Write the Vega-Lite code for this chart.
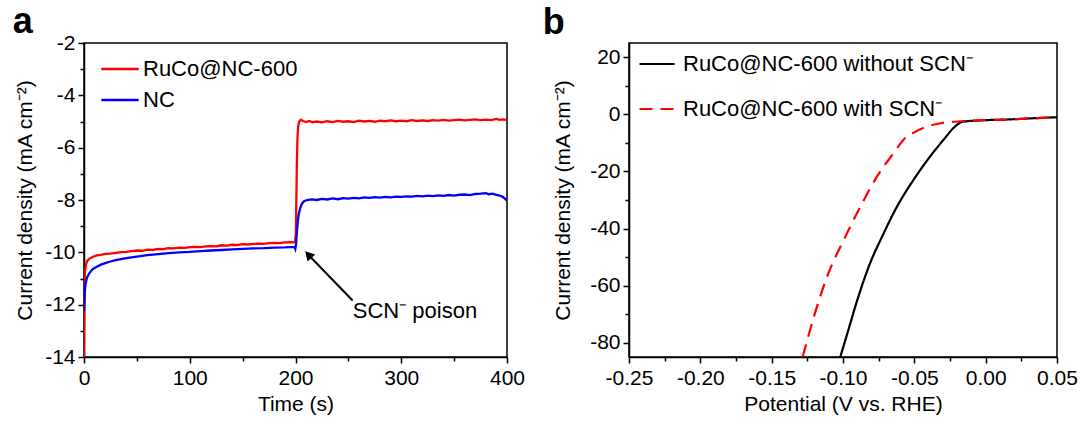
{
  "$schema": "https://vega.github.io/schema/vega-lite/v6.json",
  "background": "white",
  "padding": {"left": 11, "top": 3, "right": 0, "bottom": 0},
  "config": {
    "font": "Liberation Sans",
    "view": {"stroke": "black", "strokeWidth": 1.5},
    "axis": {"grid": false, "labelFlush": false, "domainColor": "black", "domainWidth": 1.5, "tickColor": "black", "tickWidth": 1.5, "tickSize": 6, "labelColor": "black", "labelFontSize": 21, "labelFont": "Liberation Sans", "titleFont": "Liberation Sans", "titleFontSize": 21, "titleFontWeight": "normal", "titleColor": "black", "labelPadding": 3, "titlePadding": 6},
    "axisX": {"labelPadding": 4, "titlePadding": 5},
    "legend": {"labelFont": "Liberation Sans", "labelColor": "black", "symbolType": "stroke", "padding": 0, "labelLimit": 400},
    "title": {"fontSize": 36, "fontWeight": "bold", "anchor": "start", "frame": "bounds", "color": "black", "font": "Liberation Sans"},
    "concat": {"spacing": 15}
  },
  "resolve": {"scale": {"color": "independent", "strokeDash": "independent"}},
  "datasets": {
    "ta": [
      {"t": 0, "j": -14.0, "sample": "RuCo@NC-600"},
      {"t": 0.3, "j": -12.5, "sample": "RuCo@NC-600"},
      {"t": 0.6, "j": -11.2, "sample": "RuCo@NC-600"},
      {"t": 1, "j": -10.7, "sample": "RuCo@NC-600"},
      {"t": 2, "j": -10.45, "sample": "RuCo@NC-600"},
      {"t": 3, "j": -10.33, "sample": "RuCo@NC-600"},
      {"t": 5, "j": -10.25, "sample": "RuCo@NC-600"},
      {"t": 8, "j": -10.18, "sample": "RuCo@NC-600"},
      {"t": 12, "j": -10.12, "sample": "RuCo@NC-600"},
      {"t": 16, "j": -10.1, "sample": "RuCo@NC-600"},
      {"t": 20, "j": -10.06, "sample": "RuCo@NC-600"},
      {"t": 25, "j": -10.05, "sample": "RuCo@NC-600"},
      {"t": 30, "j": -10.02, "sample": "RuCo@NC-600"},
      {"t": 35, "j": -9.99, "sample": "RuCo@NC-600"},
      {"t": 40, "j": -9.98, "sample": "RuCo@NC-600"},
      {"t": 45, "j": -9.95, "sample": "RuCo@NC-600"},
      {"t": 50, "j": -9.93, "sample": "RuCo@NC-600"},
      {"t": 55, "j": -9.94, "sample": "RuCo@NC-600"},
      {"t": 60, "j": -9.9, "sample": "RuCo@NC-600"},
      {"t": 65, "j": -9.91, "sample": "RuCo@NC-600"},
      {"t": 70, "j": -9.87, "sample": "RuCo@NC-600"},
      {"t": 75, "j": -9.88, "sample": "RuCo@NC-600"},
      {"t": 80, "j": -9.84, "sample": "RuCo@NC-600"},
      {"t": 85, "j": -9.85, "sample": "RuCo@NC-600"},
      {"t": 90, "j": -9.82, "sample": "RuCo@NC-600"},
      {"t": 95, "j": -9.83, "sample": "RuCo@NC-600"},
      {"t": 100, "j": -9.8, "sample": "RuCo@NC-600"},
      {"t": 105, "j": -9.79, "sample": "RuCo@NC-600"},
      {"t": 110, "j": -9.8, "sample": "RuCo@NC-600"},
      {"t": 115, "j": -9.77, "sample": "RuCo@NC-600"},
      {"t": 120, "j": -9.76, "sample": "RuCo@NC-600"},
      {"t": 125, "j": -9.77, "sample": "RuCo@NC-600"},
      {"t": 130, "j": -9.73, "sample": "RuCo@NC-600"},
      {"t": 135, "j": -9.74, "sample": "RuCo@NC-600"},
      {"t": 140, "j": -9.71, "sample": "RuCo@NC-600"},
      {"t": 145, "j": -9.72, "sample": "RuCo@NC-600"},
      {"t": 150, "j": -9.69, "sample": "RuCo@NC-600"},
      {"t": 155, "j": -9.7, "sample": "RuCo@NC-600"},
      {"t": 160, "j": -9.68, "sample": "RuCo@NC-600"},
      {"t": 165, "j": -9.67, "sample": "RuCo@NC-600"},
      {"t": 170, "j": -9.68, "sample": "RuCo@NC-600"},
      {"t": 175, "j": -9.65, "sample": "RuCo@NC-600"},
      {"t": 180, "j": -9.64, "sample": "RuCo@NC-600"},
      {"t": 185, "j": -9.65, "sample": "RuCo@NC-600"},
      {"t": 190, "j": -9.62, "sample": "RuCo@NC-600"},
      {"t": 195, "j": -9.61, "sample": "RuCo@NC-600"},
      {"t": 199.5, "j": -9.62, "sample": "RuCo@NC-600"},
      {"t": 200.3, "j": -9.3, "sample": "RuCo@NC-600"},
      {"t": 200.8, "j": -8.0, "sample": "RuCo@NC-600"},
      {"t": 201.3, "j": -6.6, "sample": "RuCo@NC-600"},
      {"t": 201.8, "j": -5.7, "sample": "RuCo@NC-600"},
      {"t": 202.5, "j": -5.2, "sample": "RuCo@NC-600"},
      {"t": 203.5, "j": -5.0, "sample": "RuCo@NC-600"},
      {"t": 205, "j": -4.93, "sample": "RuCo@NC-600"},
      {"t": 207, "j": -4.98, "sample": "RuCo@NC-600"},
      {"t": 210, "j": -5.02, "sample": "RuCo@NC-600"},
      {"t": 213, "j": -4.98, "sample": "RuCo@NC-600"},
      {"t": 216, "j": -5.03, "sample": "RuCo@NC-600"},
      {"t": 220, "j": -5.0, "sample": "RuCo@NC-600"},
      {"t": 225, "j": -5.03, "sample": "RuCo@NC-600"},
      {"t": 230, "j": -4.99, "sample": "RuCo@NC-600"},
      {"t": 235, "j": -5.02, "sample": "RuCo@NC-600"},
      {"t": 240, "j": -4.98, "sample": "RuCo@NC-600"},
      {"t": 245, "j": -5.01, "sample": "RuCo@NC-600"},
      {"t": 250, "j": -4.99, "sample": "RuCo@NC-600"},
      {"t": 255, "j": -5.02, "sample": "RuCo@NC-600"},
      {"t": 260, "j": -4.97, "sample": "RuCo@NC-600"},
      {"t": 265, "j": -5.0, "sample": "RuCo@NC-600"},
      {"t": 270, "j": -4.98, "sample": "RuCo@NC-600"},
      {"t": 275, "j": -5.01, "sample": "RuCo@NC-600"},
      {"t": 280, "j": -4.97, "sample": "RuCo@NC-600"},
      {"t": 285, "j": -4.99, "sample": "RuCo@NC-600"},
      {"t": 290, "j": -4.96, "sample": "RuCo@NC-600"},
      {"t": 295, "j": -4.99, "sample": "RuCo@NC-600"},
      {"t": 300, "j": -4.97, "sample": "RuCo@NC-600"},
      {"t": 305, "j": -4.99, "sample": "RuCo@NC-600"},
      {"t": 310, "j": -4.95, "sample": "RuCo@NC-600"},
      {"t": 315, "j": -4.98, "sample": "RuCo@NC-600"},
      {"t": 320, "j": -4.96, "sample": "RuCo@NC-600"},
      {"t": 325, "j": -4.98, "sample": "RuCo@NC-600"},
      {"t": 330, "j": -4.95, "sample": "RuCo@NC-600"},
      {"t": 335, "j": -4.97, "sample": "RuCo@NC-600"},
      {"t": 340, "j": -4.94, "sample": "RuCo@NC-600"},
      {"t": 345, "j": -4.97, "sample": "RuCo@NC-600"},
      {"t": 350, "j": -4.95, "sample": "RuCo@NC-600"},
      {"t": 355, "j": -4.93, "sample": "RuCo@NC-600"},
      {"t": 360, "j": -4.96, "sample": "RuCo@NC-600"},
      {"t": 365, "j": -4.94, "sample": "RuCo@NC-600"},
      {"t": 370, "j": -4.92, "sample": "RuCo@NC-600"},
      {"t": 375, "j": -4.95, "sample": "RuCo@NC-600"},
      {"t": 380, "j": -4.93, "sample": "RuCo@NC-600"},
      {"t": 385, "j": -4.95, "sample": "RuCo@NC-600"},
      {"t": 390, "j": -4.9, "sample": "RuCo@NC-600"},
      {"t": 393, "j": -4.94, "sample": "RuCo@NC-600"},
      {"t": 396, "j": -4.92, "sample": "RuCo@NC-600"},
      {"t": 400, "j": -4.95, "sample": "RuCo@NC-600"},
      {"t": 0, "j": -12.25, "sample": "NC"},
      {"t": 0.3, "j": -11.9, "sample": "NC"},
      {"t": 0.7, "j": -11.55, "sample": "NC"},
      {"t": 1.2, "j": -11.3, "sample": "NC"},
      {"t": 2, "j": -11.1, "sample": "NC"},
      {"t": 3, "j": -10.95, "sample": "NC"},
      {"t": 5, "j": -10.8, "sample": "NC"},
      {"t": 8, "j": -10.65, "sample": "NC"},
      {"t": 12, "j": -10.55, "sample": "NC"},
      {"t": 16, "j": -10.47, "sample": "NC"},
      {"t": 20, "j": -10.41, "sample": "NC"},
      {"t": 25, "j": -10.35, "sample": "NC"},
      {"t": 30, "j": -10.3, "sample": "NC"},
      {"t": 40, "j": -10.22, "sample": "NC"},
      {"t": 50, "j": -10.16, "sample": "NC"},
      {"t": 60, "j": -10.11, "sample": "NC"},
      {"t": 70, "j": -10.07, "sample": "NC"},
      {"t": 80, "j": -10.03, "sample": "NC"},
      {"t": 90, "j": -10.0, "sample": "NC"},
      {"t": 100, "j": -9.98, "sample": "NC"},
      {"t": 110, "j": -9.95, "sample": "NC"},
      {"t": 120, "j": -9.93, "sample": "NC"},
      {"t": 130, "j": -9.91, "sample": "NC"},
      {"t": 140, "j": -9.89, "sample": "NC"},
      {"t": 150, "j": -9.87, "sample": "NC"},
      {"t": 160, "j": -9.85, "sample": "NC"},
      {"t": 170, "j": -9.84, "sample": "NC"},
      {"t": 180, "j": -9.82, "sample": "NC"},
      {"t": 190, "j": -9.81, "sample": "NC"},
      {"t": 199, "j": -9.79, "sample": "NC"},
      {"t": 199.8, "j": -9.87, "sample": "NC"},
      {"t": 200.5, "j": -9.7, "sample": "NC"},
      {"t": 201.2, "j": -9.3, "sample": "NC"},
      {"t": 202, "j": -8.9, "sample": "NC"},
      {"t": 203, "j": -8.55, "sample": "NC"},
      {"t": 204.5, "j": -8.3, "sample": "NC"},
      {"t": 206, "j": -8.15, "sample": "NC"},
      {"t": 208, "j": -8.05, "sample": "NC"},
      {"t": 211, "j": -8.0, "sample": "NC"},
      {"t": 215, "j": -7.98, "sample": "NC"},
      {"t": 220, "j": -8.0, "sample": "NC"},
      {"t": 225, "j": -7.96, "sample": "NC"},
      {"t": 230, "j": -7.98, "sample": "NC"},
      {"t": 235, "j": -7.94, "sample": "NC"},
      {"t": 240, "j": -7.97, "sample": "NC"},
      {"t": 245, "j": -7.93, "sample": "NC"},
      {"t": 250, "j": -7.95, "sample": "NC"},
      {"t": 255, "j": -7.92, "sample": "NC"},
      {"t": 260, "j": -7.94, "sample": "NC"},
      {"t": 265, "j": -7.9, "sample": "NC"},
      {"t": 270, "j": -7.92, "sample": "NC"},
      {"t": 275, "j": -7.89, "sample": "NC"},
      {"t": 280, "j": -7.91, "sample": "NC"},
      {"t": 285, "j": -7.88, "sample": "NC"},
      {"t": 290, "j": -7.9, "sample": "NC"},
      {"t": 295, "j": -7.87, "sample": "NC"},
      {"t": 300, "j": -7.88, "sample": "NC"},
      {"t": 305, "j": -7.86, "sample": "NC"},
      {"t": 310, "j": -7.87, "sample": "NC"},
      {"t": 315, "j": -7.84, "sample": "NC"},
      {"t": 320, "j": -7.86, "sample": "NC"},
      {"t": 325, "j": -7.83, "sample": "NC"},
      {"t": 330, "j": -7.85, "sample": "NC"},
      {"t": 335, "j": -7.82, "sample": "NC"},
      {"t": 340, "j": -7.84, "sample": "NC"},
      {"t": 345, "j": -7.81, "sample": "NC"},
      {"t": 350, "j": -7.83, "sample": "NC"},
      {"t": 355, "j": -7.8, "sample": "NC"},
      {"t": 360, "j": -7.79, "sample": "NC"},
      {"t": 365, "j": -7.81, "sample": "NC"},
      {"t": 370, "j": -7.77, "sample": "NC"},
      {"t": 375, "j": -7.76, "sample": "NC"},
      {"t": 380, "j": -7.74, "sample": "NC"},
      {"t": 383, "j": -7.78, "sample": "NC"},
      {"t": 386, "j": -7.76, "sample": "NC"},
      {"t": 390, "j": -7.8, "sample": "NC"},
      {"t": 393, "j": -7.83, "sample": "NC"},
      {"t": 396, "j": -7.88, "sample": "NC"},
      {"t": 398, "j": -7.95, "sample": "NC"},
      {"t": 400, "j": -8.03, "sample": "NC"}
    ],
    "arrow": [{"x": 254, "y": -11.84, "x2": 212.1, "y2": -10.09}],
    "head": [{"x": 212.1, "y": -10.09}],
    "note": [{"x": 313, "y": -12.23, "label": "SCN⁻ poison"}],
    "lsv": [
      {"e": -0.1019, "j": -85, "condition": "RuCo@NC-600 without SCN⁻"},
      {"e": -0.0967, "j": -76.3, "condition": "RuCo@NC-600 without SCN⁻"},
      {"e": -0.0897, "j": -64.6, "condition": "RuCo@NC-600 without SCN⁻"},
      {"e": -0.0816, "j": -52.9, "condition": "RuCo@NC-600 without SCN⁻"},
      {"e": -0.0722, "j": -42.4, "condition": "RuCo@NC-600 without SCN⁻"},
      {"e": -0.0617, "j": -31.9, "condition": "RuCo@NC-600 without SCN⁻"},
      {"e": -0.0501, "j": -22.6, "condition": "RuCo@NC-600 without SCN⁻"},
      {"e": -0.0384, "j": -14.4, "condition": "RuCo@NC-600 without SCN⁻"},
      {"e": -0.0290, "j": -8.6, "condition": "RuCo@NC-600 without SCN⁻"},
      {"e": -0.0220, "j": -4.5, "condition": "RuCo@NC-600 without SCN⁻"},
      {"e": -0.0162, "j": -2.6, "condition": "RuCo@NC-600 without SCN⁻"},
      {"e": -0.0033, "j": -2.1, "condition": "RuCo@NC-600 without SCN⁻"},
      {"e": 0.015, "j": -1.8, "condition": "RuCo@NC-600 without SCN⁻"},
      {"e": 0.0317, "j": -1.4, "condition": "RuCo@NC-600 without SCN⁻"},
      {"e": 0.05, "j": -1.0, "condition": "RuCo@NC-600 without SCN⁻"},
      {"e": -0.1283, "j": -85, "condition": "RuCo@NC-600 with SCN⁻"},
      {"e": -0.1201, "j": -70.4, "condition": "RuCo@NC-600 with SCN⁻"},
      {"e": -0.1108, "j": -56.4, "condition": "RuCo@NC-600 with SCN⁻"},
      {"e": -0.0991, "j": -43.6, "condition": "RuCo@NC-600 with SCN⁻"},
      {"e": -0.0874, "j": -31.9, "condition": "RuCo@NC-600 with SCN⁻"},
      {"e": -0.0757, "j": -21.4, "condition": "RuCo@NC-600 with SCN⁻"},
      {"e": -0.0641, "j": -13.3, "condition": "RuCo@NC-600 with SCN⁻"},
      {"e": -0.0571, "j": -8.6, "condition": "RuCo@NC-600 with SCN⁻"},
      {"e": -0.0501, "j": -6.3, "condition": "RuCo@NC-600 with SCN⁻"},
      {"e": -0.0407, "j": -4.2, "condition": "RuCo@NC-600 with SCN⁻"},
      {"e": -0.0314, "j": -3.1, "condition": "RuCo@NC-600 with SCN⁻"},
      {"e": -0.0197, "j": -2.5, "condition": "RuCo@NC-600 with SCN⁻"},
      {"e": -0.0033, "j": -2.1, "condition": "RuCo@NC-600 with SCN⁻"},
      {"e": 0.015, "j": -1.8, "condition": "RuCo@NC-600 with SCN⁻"},
      {"e": 0.0317, "j": -1.4, "condition": "RuCo@NC-600 with SCN⁻"},
      {"e": 0.05, "j": -1.0, "condition": "RuCo@NC-600 with SCN⁻"}
    ],
    "lsvminor": [{"e": -0.25, "j": -85}]
  },
  "hconcat": [
    {
      "width": 423,
      "height": 314,
      "title": {"text": "a", "offset": -9, "dx": -2},
      "resolve": {"axis": {"x": "independent", "y": "independent"}},
      "layer": [
        {
          "data": {"name": "ta"},
          "mark": {"type": "line", "strokeWidth": 2.3, "clip": true},
          "encoding": {
            "x": {"field": "t", "type": "quantitative", "scale": {"domain": [0, 400], "nice": false, "zero": false},
              "axis": {"orient": "bottom", "values": [0, 100, 200, 300, 400], "title": "Time (s)"}},
            "y": {"field": "j", "type": "quantitative", "scale": {"domain": [-14, -2], "nice": false, "zero": false},
              "axis": {"orient": "left", "values": [-14, -12, -10, -8, -6, -4, -2], "title": "Current density (mA cm⁻²)", "titlePadding": 9, "labelExpr": "replace(datum.label, '−', '-')"}},
            "color": {"field": "sample", "type": "nominal",
              "scale": {"domain": ["RuCo@NC-600", "NC"], "range": ["#ff0000", "#0000ff"]},
              "legend": {"title": null, "orient": "top-left", "offset": 6, "symbolOffset": 10, "symbolSize": 1400, "symbolStrokeWidth": 2.5, "labelFontSize": 22, "labelOffset": 3, "rowPadding": -28}}
          }
        },
        {
          "data": {"name": "arrow"},
          "mark": {"type": "rule", "color": "black", "strokeWidth": 2},
          "encoding": {
            "x": {"field": "x", "type": "quantitative", "axis": {"orient": "bottom", "values": [50, 150, 250, 350], "labels": false, "domain": false, "tickSize": 4, "title": null}},
            "y": {"field": "y", "type": "quantitative", "axis": {"orient": "left", "values": [-13, -11, -9, -7, -5, -3], "labels": false, "domain": false, "tickSize": 4, "title": null}},
            "x2": {"field": "x2"},
            "y2": {"field": "y2"}
          }
        },
        {
          "data": {"name": "head"},
          "mark": {"type": "point", "shape": "triangle-up", "filled": true, "color": "black", "opacity": 1, "size": 110, "angle": 317},
          "encoding": {
            "x": {"field": "x", "type": "quantitative", "axis": null},
            "y": {"field": "y", "type": "quantitative", "axis": null}
          }
        },
        {
          "data": {"name": "note"},
          "mark": {"type": "text", "fontSize": 22, "color": "black", "align": "center", "baseline": "middle"},
          "encoding": {
            "x": {"field": "x", "type": "quantitative", "axis": null},
            "y": {"field": "y", "type": "quantitative", "axis": null},
            "text": {"field": "label"}
          }
        }
      ]
    },
    {
      "width": 428,
      "height": 314,
      "title": {"text": "b", "offset": 1, "dx": -10},
      "resolve": {"axis": {"x": "independent", "y": "independent"}},
      "layer": [
        {
          "data": {"name": "lsv"},
          "mark": {"type": "line", "strokeWidth": 2.2, "clip": true, "interpolate": "monotone"},
          "encoding": {
            "x": {"field": "e", "type": "quantitative", "scale": {"domain": [-0.25, 0.05], "nice": false, "zero": false},
              "axis": {"orient": "bottom", "values": [-0.25, -0.2, -0.15, -0.1, -0.05, 0, 0.05], "format": ".2f", "labelOverlap": false, "labelExpr": "replace(datum.label, '−', '-')", "title": "Potential (V vs. RHE)"}},
            "y": {"field": "j", "type": "quantitative", "scale": {"domain": [-85, 25], "nice": false, "zero": false},
              "axis": {"orient": "left", "values": [-80, -60, -40, -20, 0, 20], "labelExpr": "replace(datum.label, '−', '-')", "title": "Current density (mA cm⁻²)", "titlePadding": 16}},
            "color": {"field": "condition", "type": "nominal",
              "scale": {"domain": ["RuCo@NC-600 without SCN⁻", "RuCo@NC-600 with SCN⁻"], "range": ["#000000", "#ff0000"]},
              "legend": {"title": null, "orient": "top-left", "offset": 2, "symbolOffset": 7, "symbolSize": 1225, "symbolStrokeWidth": 2.2, "labelFontSize": 22, "labelOffset": 7, "rowPadding": 15}},
            "strokeDash": {"field": "condition", "type": "nominal",
              "scale": {"domain": ["RuCo@NC-600 without SCN⁻", "RuCo@NC-600 with SCN⁻"], "range": [[1, 0], [13, 8]]},
              "legend": {"title": null, "orient": "top-left", "offset": 2, "symbolOffset": 7, "symbolSize": 1225, "symbolStrokeWidth": 2.2, "labelFontSize": 22, "labelOffset": 7, "rowPadding": 15}}
          }
        },
        {
          "data": {"name": "lsvminor"},
          "mark": {"type": "point", "opacity": 0},
          "encoding": {
            "x": {"field": "e", "type": "quantitative", "axis": {"orient": "bottom", "values": [-0.225, -0.175, -0.125, -0.075, -0.025, 0.025], "labels": false, "domain": false, "tickSize": 4, "title": null}},
            "y": {"field": "j", "type": "quantitative", "axis": {"orient": "left", "values": [-70, -50, -30, -10, 10], "labels": false, "domain": false, "tickSize": 4, "title": null}}
          }
        }
      ]
    }
  ]
}
